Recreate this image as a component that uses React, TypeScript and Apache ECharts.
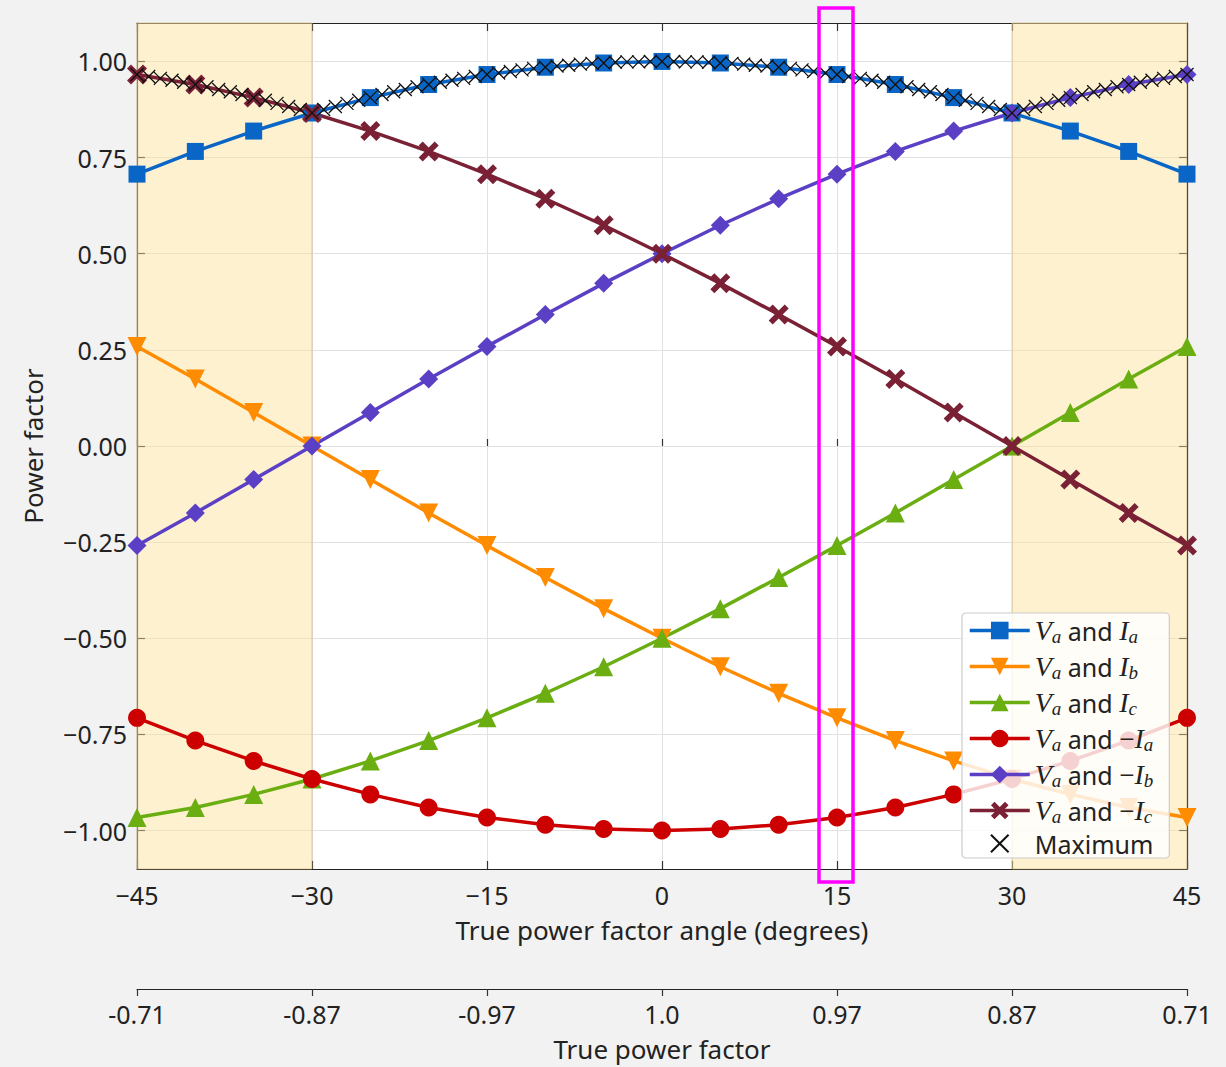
import React, { useEffect, useRef } from "react";
import * as echarts from "echarts";

// Angle (degrees) for the six plotted series, one point every 5 degrees
const angles = [-45, -40, -35, -30, -25, -20, -15, -10, -5, 0, 5, 10, 15, 20, 25, 30, 35, 40, 45];

const vaIa = [0.707, 0.766, 0.819, 0.866, 0.906, 0.94, 0.966, 0.985, 0.996, 1.0, 0.996, 0.985, 0.966, 0.94, 0.906, 0.866, 0.819, 0.766, 0.707];
const vaIb = [0.259, 0.174, 0.087, 0.0, -0.087, -0.174, -0.259, -0.342, -0.423, -0.5, -0.574, -0.643, -0.707, -0.766, -0.819, -0.866, -0.906, -0.94, -0.966];
const vaIc = [-0.966, -0.94, -0.906, -0.866, -0.819, -0.766, -0.707, -0.643, -0.574, -0.5, -0.423, -0.342, -0.259, -0.174, -0.087, 0.0, 0.087, 0.174, 0.259];
const vaNegIa = [-0.707, -0.766, -0.819, -0.866, -0.906, -0.94, -0.966, -0.985, -0.996, -1.0, -0.996, -0.985, -0.966, -0.94, -0.906, -0.866, -0.819, -0.766, -0.707];
const vaNegIb = [-0.259, -0.174, -0.087, 0.0, 0.087, 0.174, 0.259, 0.342, 0.423, 0.5, 0.574, 0.643, 0.707, 0.766, 0.819, 0.866, 0.906, 0.94, 0.966];
const vaNegIc = [0.966, 0.94, 0.906, 0.866, 0.819, 0.766, 0.707, 0.643, 0.574, 0.5, 0.423, 0.342, 0.259, 0.174, 0.087, 0.0, -0.087, -0.174, -0.259];

// Maximum markers, one per degree
const maxAngles = [
  -45, -44, -43, -42, -41, -40, -39, -38, -37, -36, -35, -34, -33, -32, -31, -30,
  -29, -28, -27, -26, -25, -24, -23, -22, -21, -20, -19, -18, -17, -16, -15,
  -14, -13, -12, -11, -10, -9, -8, -7, -6, -5, -4, -3, -2, -1, 0,
  1, 2, 3, 4, 5, 6, 7, 8, 9, 10, 11, 12, 13, 14, 15,
  16, 17, 18, 19, 20, 21, 22, 23, 24, 25, 26, 27, 28, 29, 30,
  31, 32, 33, 34, 35, 36, 37, 38, 39, 40, 41, 42, 43, 44, 45,
];
const maxValues = [
  0.966, 0.961, 0.956, 0.951, 0.946, 0.94, 0.934, 0.927, 0.921, 0.914, 0.906, 0.899, 0.891, 0.883, 0.875, 0.866,
  0.875, 0.883, 0.891, 0.899, 0.906, 0.914, 0.921, 0.927, 0.934, 0.94, 0.946, 0.951, 0.956, 0.961, 0.966,
  0.97, 0.974, 0.978, 0.982, 0.985, 0.988, 0.99, 0.993, 0.995, 0.996, 0.998, 0.999, 0.999, 1.0, 1.0,
  1.0, 0.999, 0.999, 0.998, 0.996, 0.995, 0.993, 0.99, 0.988, 0.985, 0.982, 0.978, 0.974, 0.97, 0.966,
  0.961, 0.956, 0.951, 0.946, 0.94, 0.934, 0.927, 0.921, 0.914, 0.906, 0.899, 0.891, 0.883, 0.875, 0.866,
  0.875, 0.883, 0.891, 0.899, 0.906, 0.914, 0.921, 0.927, 0.934, 0.94, 0.946, 0.951, 0.956, 0.961, 0.966,
];

const yTicks = [-1, -0.75, -0.5, -0.25, 0, 0.25, 0.5, 0.75, 1];
const xTicks = [-45, -30, -15, 0, 15, 30, 45];
const pfTickLabels = ["-0.71", "-0.87", "-0.97", "1.0", "0.97", "0.87", "0.71"];
const shadedRanges = [[-45, -30], [30, 45]];
const highlightAngle = 15;

const seriesNames = ["Va Ia", "Va Ib", "Va Ic", "Va -Ia", "Va -Ib", "Va -Ic", "Maximum"];
const legendRich: Record<string, string> = {
  "Va Ia": "{v|V}{s|a}{t| and }{v|I}{s|a}",
  "Va Ib": "{v|V}{s|a}{t| and }{v|I}{s|b}",
  "Va Ic": "{v|V}{s|a}{t| and }{v|I}{s|c}",
  "Va -Ia": "{v|V}{s|a}{t| and }{m|−}{v|I}{s|a}",
  "Va -Ib": "{v|V}{s|a}{t| and }{m|−}{v|I}{s|b}",
  "Va -Ic": "{v|V}{s|a}{t| and }{m|−}{v|I}{s|c}",
  Maximum: "{t|Maximum}",
};

const FONT = "Noto Sans";
const MATH = "Liberation Serif";
const FS = 25;
const X_PATH = "path://M2,0 L5,3 L8,0 L10,2 L7,5 L10,8 L8,10 L5,7 L2,10 L0,8 L3,5 L0,2 Z";
const THIN_X = "path://M0,0 L10,10 M10,0 L0,10";

function pairs(xs: number[], ys: number[]) {
  return xs.map((x, i) => [x, ys[i]]);
}

const minusFmt = (v: number) => String(v).replace("-", "−");

export default function App() {
  const ref = useRef<HTMLDivElement>(null);

  useEffect(() => {
    document.body.style.margin = "0";
    document.body.style.background = "#f2f2f2";
    const chart = echarts.init(ref.current!, undefined, { renderer: "svg" });

    const mkSeries = (name: string, data: number[], color: string, symbol: string, size: number, rotate = 0) => ({
      name,
      type: "line",
      data: pairs(angles, data),
      symbol,
      symbolSize: size,
      symbolRotate: rotate,
      showAllSymbol: true,
      lineStyle: { color, width: 3.5 },
      itemStyle: { color },
      z: 3,
    });

    const frameAxis = {
      axisLine: { show: true, onZero: false, lineStyle: { color: "#222", width: 1.2 } },
      axisTick: { show: true, inside: true, length: 8, lineStyle: { color: "#333", width: 1.2 } },
    };

    const option: any = {
      animation: false,
      backgroundColor: "#f2f2f2",
      textStyle: { fontFamily: FONT },
      grid: { left: 137, right: 39, top: 23, bottom: 195, show: true, backgroundColor: "#ffffff", borderWidth: 0 },
      xAxis: [
        {
          type: "value",
          position: "bottom",
          min: -45,
          max: 45,
          interval: 15,
          ...frameAxis,
          axisLabel: { color: "#222", fontSize: FS, margin: 13, formatter: minusFmt },
          splitLine: { show: true, lineStyle: { color: "#e2e2e2", width: 1 } },
          name: "True power factor angle (degrees)",
          nameLocation: "middle",
          nameGap: 48,
          nameTextStyle: { color: "#222", fontSize: 26, fontFamily: FONT },
        },
        {
          type: "value",
          position: "top",
          min: -45,
          max: 45,
          interval: 15,
          ...frameAxis,
          axisLabel: { show: false },
          splitLine: { show: false },
        },
        {
          type: "value",
          position: "bottom",
          offset: 120,
          min: -45,
          max: 45,
          interval: 15,
          axisLine: { show: true, onZero: false, lineStyle: { color: "#222", width: 1.2 } },
          axisTick: { show: true, inside: false, length: 7, lineStyle: { color: "#333", width: 1.2 } },
          axisLabel: {
            color: "#222",
            fontSize: FS,
            margin: 12,
            formatter: (v: number) => pfTickLabels[xTicks.indexOf(v)] ?? "",
          },
          splitLine: { show: false },
          name: "True power factor",
          nameLocation: "middle",
          nameGap: 47,
          nameTextStyle: { color: "#222", fontSize: 26, fontFamily: FONT },
        },
        {
          type: "value",
          position: "bottom",
          offset: 120,
          min: -45,
          max: 45,
          interval: 15,
          axisLine: { show: false },
          axisTick: { show: true, inside: true, length: 7, lineStyle: { color: "#333", width: 1.2 } },
          axisLabel: { show: false },
          splitLine: { show: false },
        },
      ],
      yAxis: [
        {
          type: "value",
          position: "left",
          min: -1.1,
          max: 1.1,
          axisLine: { show: true, onZero: false, lineStyle: { color: "#222", width: 1.2 } },
          axisTick: { show: true, inside: true, length: 8, customValues: yTicks, lineStyle: { color: "#333", width: 1.2 } },
          axisLabel: {
            color: "#222",
            fontSize: FS,
            margin: 10,
            customValues: yTicks,
            formatter: (v: number) => v.toFixed(2).replace("-", "−"),
          },
          splitLine: { show: true, lineStyle: { color: "#e2e2e2", width: 1 } },
          name: "Power factor",
          nameLocation: "middle",
          nameGap: 91,
          nameTextStyle: { color: "#222", fontSize: 26, fontFamily: FONT },
        },
        {
          type: "value",
          position: "right",
          min: -1.1,
          max: 1.1,
          axisLine: { show: true, onZero: false, lineStyle: { color: "#222", width: 1.2 } },
          axisTick: { show: true, inside: true, length: 8, customValues: yTicks, lineStyle: { color: "#333", width: 1.2 } },
          axisLabel: { show: false, customValues: yTicks },
          splitLine: { show: false },
        },
      ],
      legend: {
        show: true,
        left: 962,
        top: 613,
        orient: "vertical",
        data: seriesNames,
        itemWidth: 60,
        itemHeight: 22,
        itemGap: 5,
        padding: [2, 16, 2, 6],
        lineStyle: { width: 3.5 },
        backgroundColor: "rgba(255,255,255,0.82)",
        borderColor: "#cccccc",
        borderWidth: 1.2,
        borderRadius: 4,
        formatter: (name: string) => legendRich[name] ?? name,
        textStyle: {
          color: "#222",
          fontSize: FS,
          fontFamily: FONT,
          rich: {
            v: { fontFamily: MATH, fontStyle: "italic", fontSize: 28, color: "#222", lineHeight: 26 },
            s: { fontFamily: MATH, fontStyle: "italic", fontSize: 19, color: "#222", lineHeight: 14, padding: [12, 0, 0, 0] },
            m: { fontFamily: MATH, fontSize: 27, color: "#222", lineHeight: 26 },
            t: { fontFamily: FONT, fontSize: FS, color: "#222", lineHeight: 26 },
          },
        },
      },
      series: [
        {
          name: "shade",
          type: "line",
          data: [],
          z: 1,
          silent: true,
          markArea: {
            silent: true,
            itemStyle: { color: "rgba(252,225,150,0.45)", borderColor: "rgba(205,175,105,0.55)", borderWidth: 1 },
            data: shadedRanges.map((r) => [{ xAxis: r[0] }, { xAxis: r[1] }]),
          },
        },
        mkSeries("Va Ia", vaIa, "#0a66c6", "rect", 17),
        mkSeries("Va Ib", vaIb, "#ff8c00", "triangle", 19, 180),
        mkSeries("Va Ic", vaIc, "#6aae12", "triangle", 19),
        mkSeries("Va -Ia", vaNegIa, "#cc0000", "circle", 18),
        mkSeries("Va -Ib", vaNegIb, "#5b3fc4", "diamond", 19),
        mkSeries("Va -Ic", vaNegIc, "#7a2136", X_PATH, 20),
        {
          name: "Maximum",
          type: "line",
          data: pairs(maxAngles, maxValues),
          symbol: THIN_X,
          symbolSize: 13,
          showAllSymbol: true,
          lineStyle: { width: 0, opacity: 0 },
          itemStyle: { color: "rgba(0,0,0,0)", borderColor: "#111", borderWidth: 1.3 },
          z: 4,
        },
      ],
    };

    chart.setOption(option);

    const px = chart.convertToPixel({ xAxisIndex: 0 }, highlightAngle) as number;
    chart.setOption({
      graphic: [
        {
          type: "rect",
          z: 100,
          silent: true,
          shape: { x: px - 18, y: 8, width: 34, height: 874 },
          style: { fill: "none", stroke: "#ff00ff", lineWidth: 3.5 },
        },
      ],
    });

    return () => chart.dispose();
  }, []);

  return <div ref={ref} style={{ width: 1226, height: 1067 }} />;
}
